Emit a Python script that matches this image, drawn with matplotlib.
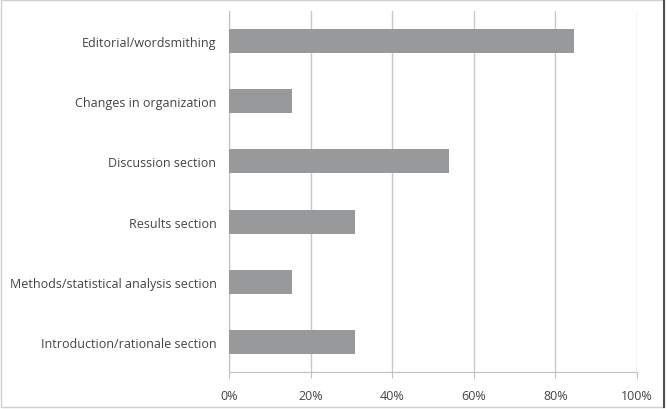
import matplotlib.pyplot as plt
from matplotlib.patches import Rectangle
from matplotlib.ticker import PercentFormatter

# categories from bottom to top
categories = ['Introduction/rationale section', 'Methods/statistical analysis section',
              'Results section', 'Discussion section', 'Changes in organization',
              'Editorial/wordsmithing']
values = [30.8, 15.4, 30.8, 53.8, 15.4, 84.6]
xticks = [0, 20, 40, 60, 80, 100]

plt.rcParams['font.family'] = ['Open Sans', 'DejaVu Sans']

fig = plt.figure(figsize=(6.67, 4.10), dpi=100)
ax = fig.add_axes([229/667, 1-373/410, (637-229)/667, (373-12)/410])

ypos = range(len(categories))
ax.barh(ypos, values, height=0.4, color='#98999b', zorder=3)

ax.set_xlim(0, 100)
ax.set_ylim(-0.5, len(categories)-0.5)
ax.set_xticks(xticks)
ax.xaxis.set_major_formatter(PercentFormatter(decimals=0))
ax.set_yticks(list(ypos))
ax.set_yticklabels(categories)
ax.grid(axis='x', color='#c8c8c8', linewidth=1, zorder=0)

for s in ['top', 'right']:
    ax.spines[s].set_visible(False)
for s in ['left', 'bottom']:
    ax.spines[s].set_color('#c0c0c0')
ax.tick_params(axis='x', length=4, color='#c0c0c0', labelsize=9, labelcolor='#444444', pad=8)
ax.tick_params(axis='y', length=0, labelsize=9, labelcolor='#444444', pad=9)

# chart area border
fig.patches.append(Rectangle((0.002, 0.004), 0.993, 0.994, transform=fig.transFigure,
                             fill=False, edgecolor='#d0d0d0', linewidth=1))
fig.add_artist(plt.Line2D([664/667, 664/667], [0.004, 0.998], transform=fig.transFigure,
                          color='#505050', linewidth=1.5))

fig.savefig('out.png', dpi=100)
